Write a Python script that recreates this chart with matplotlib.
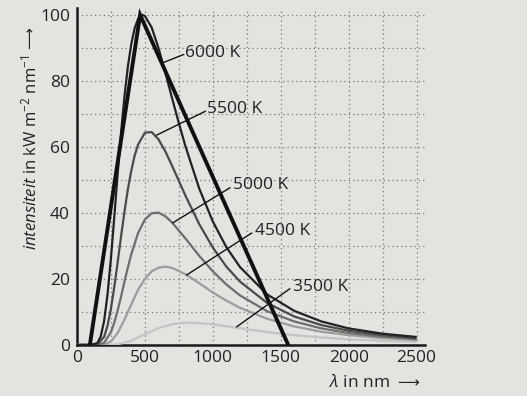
import numpy as np
import matplotlib.pyplot as plt

plt.rcParams['font.family'] = ['Open Sans', 'DejaVu Sans']
plt.rcParams['mathtext.fontset'] = 'custom'
plt.rcParams['mathtext.rm'] = 'Open Sans'
plt.rcParams['mathtext.it'] = 'Open Sans:italic'

# wavelengths (nm) and intensities
wl_6000 = [0, 100, 150, 175, 200, 225, 250, 275, 300, 325, 350, 375, 400, 425, 450, 480, 500,
           550, 600, 650, 700, 750, 800, 900, 1000, 1100, 1200, 1400, 1600, 1800, 2000, 2250, 2500]
i_6000 = [0, 0, 0.56, 2.56, 7.25, 15.25, 26.2, 38.8, 52.0, 64.5, 75.4, 84.4, 91.2, 96.0, 98.8, 100.0, 99.7,
          96.2, 90.0, 82.6, 74.8, 67.2, 60.0, 47.4, 37.4, 29.6, 23.6, 15.3, 10.3, 7.1, 5.0, 3.4, 2.4]

wl_5500 = [0, 100, 150, 200, 225, 250, 275, 300, 325, 350, 375, 400, 425, 450, 500, 550,
           600, 650, 700, 750, 800, 900, 1000, 1100, 1200, 1400, 1600, 1800, 2000, 2250, 2500]
i_5500 = [0, 0, 0.13, 2.44, 5.8, 10.9, 17.6, 25.1, 33.0, 40.4, 47.2, 52.8, 57.4, 60.7, 64.3, 64.5,
          62.3, 58.7, 54.3, 49.7, 45.1, 36.6, 29.5, 23.7, 19.2, 12.7, 8.6, 6.0, 4.3, 2.95, 2.07]

wl_5000 = [0, 150, 200, 250, 275, 300, 325, 350, 375, 400, 450, 500, 550, 600, 650, 700,
           800, 900, 1000, 1100, 1200, 1400, 1600, 1800, 2000, 2250, 2500]
i_5000 = [0, 0, 0.66, 3.84, 6.8, 10.5, 14.7, 19.2, 23.5, 27.5, 33.9, 38.0, 39.9, 40.1, 39.0, 37.1,
          32.2, 27.0, 22.3, 18.3, 15.0, 10.2, 7.1, 5.0, 3.6, 2.5, 1.77]

wl_4500 = [0, 200, 250, 300, 350, 400, 450, 500, 550, 600, 650, 700, 800, 900, 1000,
           1100, 1200, 1400, 1600, 1800, 2000, 2250, 2500]
i_4500 = [0, 0.13, 1.07, 3.62, 7.7, 12.3, 16.7, 20.0, 22.3, 23.4, 23.7, 23.35, 21.4, 18.7, 15.9,
          13.4, 11.25, 7.9, 5.6, 4.0, 2.96, 2.06, 1.48]

wl_3500 = [0, 200, 300, 400, 500, 600, 700, 800, 900, 1000, 1100, 1200, 1400, 1600,
           1800, 2000, 2250, 2500]
i_3500 = [0, 0, 0.17, 1.26, 3.22, 5.09, 6.28, 6.73, 6.64, 6.23, 5.66, 5.05, 3.89, 2.96,
          2.24, 1.71, 1.24, 0.92]

# thick straight-line approximation
wl_tri = [95, 465, 1555]
i_tri = [0, 100, 0]

curves = [
    (wl_3500, i_3500, '#c4c4c4'),
    (wl_4500, i_4500, '#9c9c9c'),
    (wl_5000, i_5000, '#6e6e6e'),
    (wl_5500, i_5500, '#4a4a4a'),
    (wl_6000, i_6000, '#222222'),
]

# label text position, leader start, leader end
labels = [
    ('6000 K', (794, 88.5), (785, 88.0), (632, 85.5)),
    ('5500 K', (955, 71.5), (945, 70.8), (588, 63.6)),
    ('5000 K', (1147, 48.5), (1125, 47.6), (706, 37.0)),
    ('4500 K', (1308, 34.5), (1286, 33.9), (808, 21.2)),
    ('3500 K', (1588, 17.6), (1566, 17.0), (1176, 5.5)),
]

bg = '#e3e3e0'
fig = plt.figure(figsize=(5.27, 3.96), dpi=100, facecolor=bg)
ax = fig.add_axes([0.146, 0.129, 0.660, 0.850])
ax.set_facecolor(bg)

ax.set_xlim(0, 2560)
ax.set_ylim(0, 102)
ax.set_xticks([0, 500, 1000, 1500, 2000, 2500])
ax.set_yticks([0, 20, 40, 60, 80, 100])
ax.set_xticks(np.arange(0, 2501, 250), minor=True)
ax.set_yticks(np.arange(0, 101, 10), minor=True)
ax.tick_params(which='both', length=0, labelsize=12.5, colors='#222222')
ax.tick_params(axis='x', pad=4)
ax.tick_params(axis='y', pad=5)
ax.grid(which='both', color='#777777', lw=0.9, linestyle=(0, (1, 2.5)), zorder=0)
ax.set_axisbelow(True)

for s in ['top', 'right']:
    ax.spines[s].set_visible(False)
for s in ['left', 'bottom']:
    ax.spines[s].set_linewidth(1.8)
    ax.spines[s].set_color('#1a1a1a')
    ax.spines[s].set_zorder(2)

for wl, inten, col in curves:
    ax.plot(wl, inten, color=col, lw=1.6, zorder=3, solid_capstyle='butt')
ax.plot(wl_tri, i_tri, color='#111111', lw=2.8, zorder=4, solid_joinstyle='miter')

for txt, tpos, lstart, lend in labels:
    ax.plot([lstart[0], lend[0]], [lstart[1], lend[1]], color='#111111', lw=1.0, zorder=5)
    ax.text(tpos[0], tpos[1], txt, fontsize=12.5, color='#222222', ha='left', va='center', zorder=6)

# axis titles, arrows drawn as separate texts (DejaVu has the glyph)
fig.canvas.draw()
r = fig.canvas.get_renderer()
W, H = fig.bbox.width, fig.bbox.height

yl = fig.text(0.057, 0.368, r'$\mathit{intensiteit}$ in kW m$^{-2}$ nm$^{-1}$', rotation=90,
              ha='center', va='bottom', fontsize=12, color='#222222')
bb = yl.get_window_extent(r)
fig.text(0.057, (bb.y1 + 6) / H, '⟶', rotation=90, ha='center', va='bottom',
         fontsize=11, color='#222222', family='DejaVu Sans')

xa = fig.text(0.795, 0.033, '⟶', ha='right', va='center', fontsize=11, color='#222222',
              family='DejaVu Sans')
bb = xa.get_window_extent(r)
fig.text((bb.x0 - 7) / W, 0.033, r'$\mathit{λ}$ in nm', ha='right', va='center',
         fontsize=12.5, color='#222222')

fig.savefig('out.png', dpi=100, facecolor=bg)
